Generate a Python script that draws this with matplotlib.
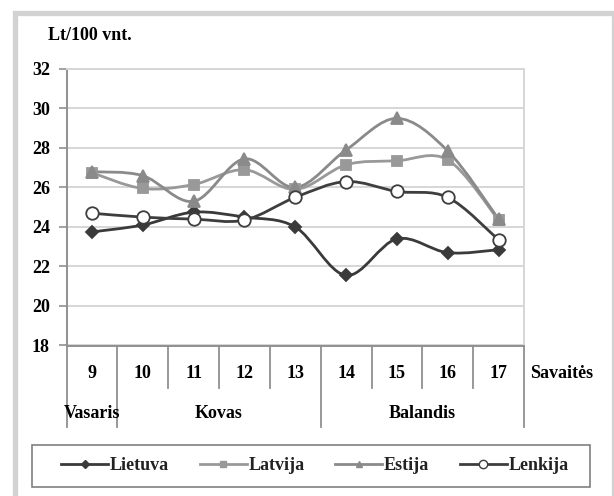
import numpy as np
import matplotlib
matplotlib.use('Agg')
import matplotlib.pyplot as plt
from matplotlib.path import Path
from matplotlib.patches import PathPatch, Rectangle
from matplotlib.lines import Line2D

plt.rcParams['font.family'] = ['Liberation Serif', 'DejaVu Serif']
plt.rcParams['font.weight'] = 'bold'

weeks = ['9', '10', '11', '12', '13', '14', '15', '16', '17']
months = ['Vasaris', 'Kovas', 'Balandis']
lietuva = [23.75, 24.1, 24.75, 24.5, 24.0, 21.55, 23.4, 22.7, 22.85]
latvija = [26.75, 25.95, 26.15, 26.9, 25.9, 27.15, 27.35, 27.4, 24.35]
estija = [26.8, 26.6, 25.3, 27.45, 26.0, 27.9, 29.5, 27.85, 24.4]
lenkija = [24.7, 24.5, 24.4, 24.35, 25.5, 26.3, 25.8, 25.5, 23.35]

W, H = 614, 496
fig = plt.figure(figsize=(W / 100, H / 100), dpi=100)

# outer grey frame
fig.patches.append(Rectangle((14.5 / W, -0.05), (613.5 - 14.5) / W, 1.05 - 13.5 / H,
                             transform=fig.transFigure, fill=False,
                             edgecolor='#d2d2d2', linewidth=3.8))

ax_l, ax_r, ax_t, ax_b = 66.5, 524, 69, 345.5
ax = fig.add_axes([ax_l / W, 1 - ax_b / H, (ax_r - ax_l) / W, (ax_b - ax_t) / H])
ax_h = ax_b - ax_t


def smooth(ax, ys, color, lw):
    # Excel-like smoothed line: cubic bezier through the points
    x = np.arange(len(ys), dtype=float)
    y = np.asarray(ys, dtype=float)
    verts = [(x[0], y[0])]
    codes = [Path.MOVETO]
    n = len(x)
    for i in range(n - 1):
        p0 = (x[max(i - 1, 0)], y[max(i - 1, 0)])
        p1 = (x[i], y[i])
        p2 = (x[i + 1], y[i + 1])
        p3 = (x[min(i + 2, n - 1)], y[min(i + 2, n - 1)])
        c1 = (p1[0] + (p2[0] - p0[0]) / 6, p1[1] + (p2[1] - p0[1]) / 6)
        c2 = (p2[0] - (p3[0] - p1[0]) / 6, p2[1] - (p3[1] - p1[1]) / 6)
        verts += [c1, c2, p2]
        codes += [Path.CURVE4] * 3
    ax.add_patch(PathPatch(Path(verts, codes), fill=False, edgecolor=color,
                           linewidth=lw, capstyle='round', joinstyle='round', zorder=3))


x = np.arange(len(weeks))
series = [
    (lietuva, '#3a3a3a', 'D', 6, '#3a3a3a'),
    (latvija, '#999999', 's', 6.5, '#999999'),
    (estija, '#8a8a8a', '^', 8, '#8a8a8a'),
    (lenkija, '#3e3e3e', 'o', 9, 'white'),
]
for ys, c, m, ms, fc in series:
    smooth(ax, ys, c, 2.0)
    ax.plot(x, ys, linestyle='none', marker=m, markersize=ms, color=c,
            markerfacecolor=fc, markeredgecolor=c, markeredgewidth=1.3, zorder=4)

ax.set_xlim(-0.5, 8.5)
ax.set_ylim(18, 32)
ax.set_yticks(np.arange(18, 33, 2))
ax.set_yticklabels([str(v) for v in range(18, 33, 2)], fontsize=13, fontweight='bold')
ax.set_xticks([])
ax.yaxis.grid(True, color='#d6d6d6', linewidth=1.4)
ax.set_axisbelow(True)
ax.tick_params(axis='y', length=6, width=1.2, color='#909090', pad=6)
for s in ['top', 'right']:
    ax.spines[s].set_color('#d6d6d6')
    ax.spines[s].set_linewidth(1.4)
ax.spines['left'].set_color('#909090')
ax.spines['left'].set_linewidth(1.4)
ax.spines['bottom'].set_color('#909090')
ax.spines['bottom'].set_linewidth(1.4)

# category dividers under the axis
tr = ax.get_xaxis_transform()
short_y = -(388 - ax_b) / ax_h
long_y = -(427 - ax_b) / ax_h
for b in np.arange(-0.5, 9, 1.0):
    yend = long_y if b in (-0.5, 0.5, 4.5, 8.5) else short_y
    ax.plot([b, b], [0, yend], transform=tr, color='#909090', lw=1.3, clip_on=False)

wy = -(374 - ax_b) / ax_h
my = -(413 - ax_b) / ax_h
for i, w in enumerate(weeks):
    ax.text(i, wy, w, transform=tr, ha='center', va='center', fontsize=13, fontweight='bold')
for pos, m in zip([0, 2.5, 6.5], months):
    ax.text(pos, my, m, transform=tr, ha='center', va='center', fontsize=13, fontweight='bold')

fig.text(530 / W, 1 - 374 / H, 'Savaitės', ha='left', va='center', fontsize=13, fontweight='bold')
fig.text(48 / W, 1 - 36 / H, 'Lt/100 vnt.', ha='left', va='center', fontsize=13, fontweight='bold')

# legend box drawn separately
fig.patches.append(Rectangle((32 / W, 1 - 487 / H), (590 - 32) / W, 42 / H,
                             transform=fig.transFigure, fill=False,
                             edgecolor='#808080', linewidth=1.2))
handles = [
    Line2D([], [], color='#3a3a3a', lw=2, marker='D', markersize=4),
    Line2D([], [], color='#999999', lw=2, marker='s', markersize=5),
    Line2D([], [], color='#8a8a8a', lw=2, marker='^', markersize=5),
    Line2D([], [], color='#3e3e3e', lw=2, marker='o', markersize=6, markerfacecolor='white'),
]
leg = fig.legend(handles, ['Lietuva', 'Latvija', 'Estija', 'Lenkija'], ncol=4,
                 loc='center', bbox_to_anchor=(315 / W, 1 - 466 / H),
                 prop={'size': 13, 'weight': 'bold'}, frameon=False,
                 handlelength=2.6, handletextpad=0.1, columnspacing=1.7)
for t in leg.get_texts():
    t.set_color('#222222')

fig.savefig('out.png', dpi=100, facecolor='white')
